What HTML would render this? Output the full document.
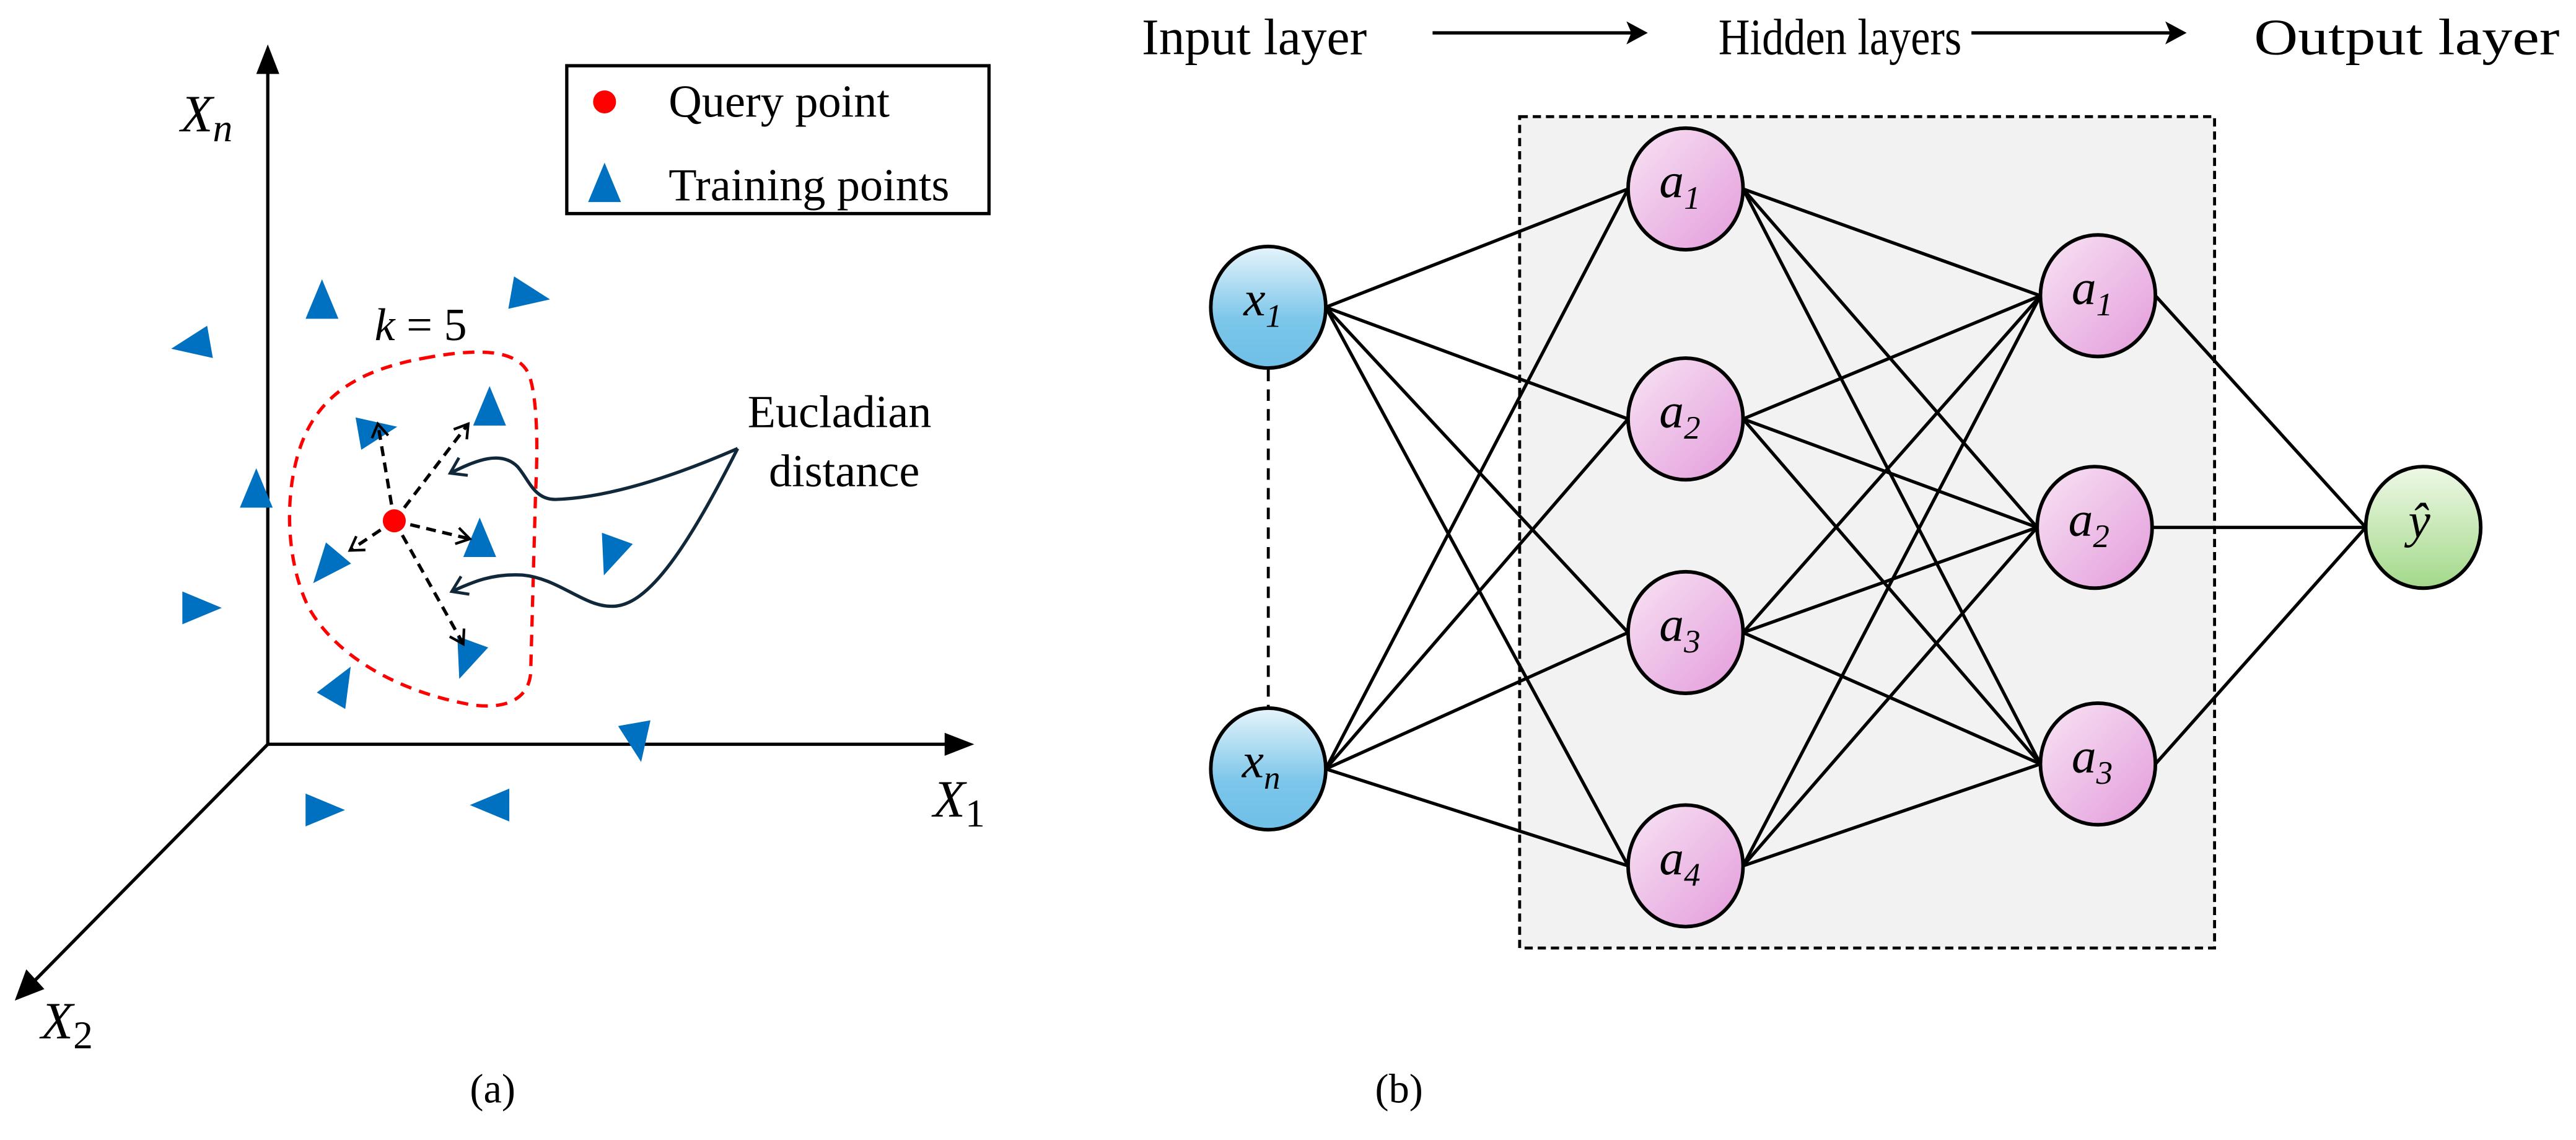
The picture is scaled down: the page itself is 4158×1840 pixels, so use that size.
<!DOCTYPE html>
<html><head><meta charset="utf-8"><style>html,body{margin:0;padding:0;background:#fff}svg{display:block}svg text{font-family:"Liberation Serif",serif}</style></head>
<body>
<svg width="4158" height="1840" viewBox="0 0 1568 693.87" xmlns="http://www.w3.org/2000/svg">
<defs>
<linearGradient id="gb" x1="0" y1="0" x2="0" y2="1"><stop offset="0" stop-color="#e6f4fb"/><stop offset="0.6" stop-color="#7cc6ea"/><stop offset="1" stop-color="#6fbfe7"/></linearGradient>
<linearGradient id="gp" x1="0" y1="0" x2="1" y2="1"><stop offset="0" stop-color="#f8e4f4"/><stop offset="1" stop-color="#e39bdb"/></linearGradient>
<linearGradient id="gg" x1="0" y1="0" x2="0" y2="1"><stop offset="0" stop-color="#eef8e6"/><stop offset="1" stop-color="#a3d98a"/></linearGradient>
<marker id="ah" markerWidth="12" markerHeight="12" refX="10" refY="6" orient="auto" markerUnits="userSpaceOnUse"><path d="M2,1 L10,6 L2,11" fill="none" stroke="#000" stroke-width="1.6"/></marker>
<marker id="ah2" markerWidth="14" markerHeight="14" refX="12" refY="7" orient="auto" markerUnits="userSpaceOnUse"><path d="M3,1 L12,7 L3,13" fill="none" stroke="#10283a" stroke-width="1.8"/></marker>
<polygon id="tri" points="0,-13 10,11 -10,11" fill="#0070c0"/>
</defs>

<g stroke="#000" stroke-width="2" fill="none">
<line x1="163" y1="453" x2="163" y2="44"/>
<line x1="163" y1="453" x2="578" y2="453"/>
<line x1="163" y1="453" x2="20" y2="598"/>
</g>
<polygon points="163,27 156,45 170,45" fill="#000"/>
<polygon points="593,453 575,446 575,460" fill="#000"/>
<polygon points="9,609 16,590 27,602" fill="#000"/>
<text x="110" y="80" font-size="32" font-style="italic">X<tspan font-size="24" dy="6">n</tspan></text>
<text x="568" y="497" font-size="32" font-style="italic">X<tspan font-size="24" dy="6" font-style="normal">1</tspan></text>
<text x="25" y="632" font-size="32" font-style="italic">X<tspan font-size="24" dy="6" font-style="normal">2</tspan></text>

<rect x="345" y="40" width="257" height="90" fill="#fff" stroke="#000" stroke-width="2"/>
<circle cx="368" cy="62" r="7" fill="#ff0000"/>
<use href="#tri" x="368" y="112"/>
<text x="407" y="71" font-size="28">Query point</text>
<text x="407" y="122" font-size="28">Training points</text>

<use href="#tri" transform="translate(196,183)"/>
<use href="#tri" transform="translate(322,180) rotate(100)"/>
<use href="#tri" transform="translate(117,210) rotate(-100)"/>
<use href="#tri" transform="translate(298,248)"/>
<use href="#tri" transform="translate(229,262) rotate(80)"/>
<use href="#tri" transform="translate(156,298)"/>
<use href="#tri" transform="translate(292,328)"/>
<use href="#tri" transform="translate(372,338) rotate(200)"/>
<use href="#tri" transform="translate(199,345) rotate(-140)"/>
<use href="#tri" transform="translate(122,370) rotate(90)"/>
<use href="#tri" transform="translate(207,417) rotate(30)"/>
<use href="#tri" transform="translate(284,401) rotate(-160)"/>
<use href="#tri" transform="translate(388,451) rotate(170)"/>
<use href="#tri" transform="translate(197,493) rotate(90)"/>
<use href="#tri" transform="translate(299,490) rotate(-90)"/>

<text x="228" y="207" font-size="28"><tspan font-style="italic">k</tspan> = 5</text>

<path d="M258,218 C290,212 315,212 322,228 C328,245 327,280 326,300 L323,410 C321,430 300,432 282,428 C242,420 205,400 188,370 C172,338 173,290 187,262 C200,236 225,224 258,218 Z" fill="none" stroke="#ff0000" stroke-width="2" stroke-dasharray="7,5"/>

<g stroke="#000" stroke-width="2" stroke-dasharray="6,4" fill="none" marker-end="url(#ah)">
<line x1="240" y1="317" x2="230" y2="258"/>
<line x1="240" y1="317" x2="285" y2="258"/>
<line x1="240" y1="317" x2="286" y2="328"/>
<line x1="240" y1="317" x2="213" y2="335"/>
<line x1="240" y1="317" x2="282" y2="392"/>
</g>
<circle cx="240" cy="317" r="7" fill="#ff0000"/>

<path d="M449,273 C410,290 370,303 338,304 C325,304 322,292 315,284 C305,274 290,280 274,288" fill="none" stroke="#10283a" stroke-width="2" marker-end="url(#ah2)"/>
<path d="M449,273 C420,330 395,370 372,369 C355,369 340,352 318,350 C300,349 288,354 275,360" fill="none" stroke="#10283a" stroke-width="2" marker-end="url(#ah2)"/>
<text x="455" y="260" font-size="28">Eucladian</text>
<text x="468" y="296" font-size="28">distance</text>

<text x="286" y="671" font-size="25">(a)</text>

<text x="695" y="33" font-size="31" textLength="137" lengthAdjust="spacingAndGlyphs">Input layer</text>
<text x="1046" y="33" font-size="31" textLength="148" lengthAdjust="spacingAndGlyphs">Hidden layers</text>
<text x="1372" y="33" font-size="31" textLength="186" lengthAdjust="spacingAndGlyphs">Output layer</text>
<line x1="872" y1="20" x2="995" y2="20" stroke="#000" stroke-width="2"/>
<polygon points="1003,20 990,13 993,20 990,27" fill="#000"/>
<line x1="1200" y1="20" x2="1323" y2="20" stroke="#000" stroke-width="2"/>
<polygon points="1331,20 1318,13 1321,20 1318,27" fill="#000"/>

<rect x="925" y="71" width="423" height="506" fill="#f2f2f2" stroke="#000" stroke-width="1.8" stroke-dasharray="5,3"/>
<line x1="772" y1="225" x2="772" y2="430" stroke="#000" stroke-width="1.8" stroke-dasharray="7,5"/>

<g stroke="#000" stroke-width="2">
<line x1="807" y1="187" x2="991" y2="115"/><line x1="807" y1="187" x2="991" y2="255"/><line x1="807" y1="187" x2="991" y2="385"/><line x1="807" y1="187" x2="991" y2="527"/>
<line x1="807" y1="468" x2="991" y2="115"/><line x1="807" y1="468" x2="991" y2="255"/><line x1="807" y1="468" x2="991" y2="385"/><line x1="807" y1="468" x2="991" y2="527"/>
<line x1="1061" y1="115" x2="1242" y2="180"/><line x1="1061" y1="115" x2="1240" y2="321"/><line x1="1061" y1="115" x2="1242" y2="465"/>
<line x1="1061" y1="255" x2="1242" y2="180"/><line x1="1061" y1="255" x2="1240" y2="321"/><line x1="1061" y1="255" x2="1242" y2="465"/>
<line x1="1061" y1="385" x2="1242" y2="180"/><line x1="1061" y1="385" x2="1240" y2="321"/><line x1="1061" y1="385" x2="1242" y2="465"/>
<line x1="1061" y1="527" x2="1242" y2="180"/><line x1="1061" y1="527" x2="1240" y2="321"/><line x1="1061" y1="527" x2="1242" y2="465"/>
<line x1="1312" y1="180" x2="1440" y2="321"/><line x1="1310" y1="321" x2="1440" y2="321"/><line x1="1312" y1="465" x2="1440" y2="321"/>
</g>

<g stroke="#000" stroke-width="2.2">
<ellipse cx="772" cy="187" rx="35" ry="37" fill="url(#gb)"/>
<ellipse cx="772" cy="468" rx="35" ry="37" fill="url(#gb)"/>
<ellipse cx="1026" cy="115" rx="35" ry="37" fill="url(#gp)"/>
<ellipse cx="1026" cy="255" rx="35" ry="37" fill="url(#gp)"/>
<ellipse cx="1026" cy="385" rx="35" ry="37" fill="url(#gp)"/>
<ellipse cx="1026" cy="527" rx="35" ry="37" fill="url(#gp)"/>
<ellipse cx="1277" cy="180" rx="35" ry="37" fill="url(#gp)"/>
<ellipse cx="1275" cy="321" rx="35" ry="37" fill="url(#gp)"/>
<ellipse cx="1277" cy="465" rx="35" ry="37" fill="url(#gp)"/>
<ellipse cx="1475" cy="321" rx="35" ry="37" fill="url(#gg)"/>
</g>

<g font-size="30" font-style="italic">
<text x="757" y="192">x<tspan font-size="20" dy="7">1</tspan></text>
<text x="756" y="473">x<tspan font-size="20" dy="7">n</tspan></text>
<text x="1010" y="120">a<tspan font-size="20" dy="7">1</tspan></text>
<text x="1010" y="260">a<tspan font-size="20" dy="7">2</tspan></text>
<text x="1010" y="390">a<tspan font-size="20" dy="7">3</tspan></text>
<text x="1010" y="532">a<tspan font-size="20" dy="7">4</tspan></text>
<text x="1261" y="185">a<tspan font-size="20" dy="7">1</tspan></text>
<text x="1259" y="326">a<tspan font-size="20" dy="7">2</tspan></text>
<text x="1261" y="470">a<tspan font-size="20" dy="7">3</tspan></text>
<text x="1466" y="327">ŷ</text>
</g>

<text x="837" y="671" font-size="25">(b)</text>
</svg>
</body></html>
